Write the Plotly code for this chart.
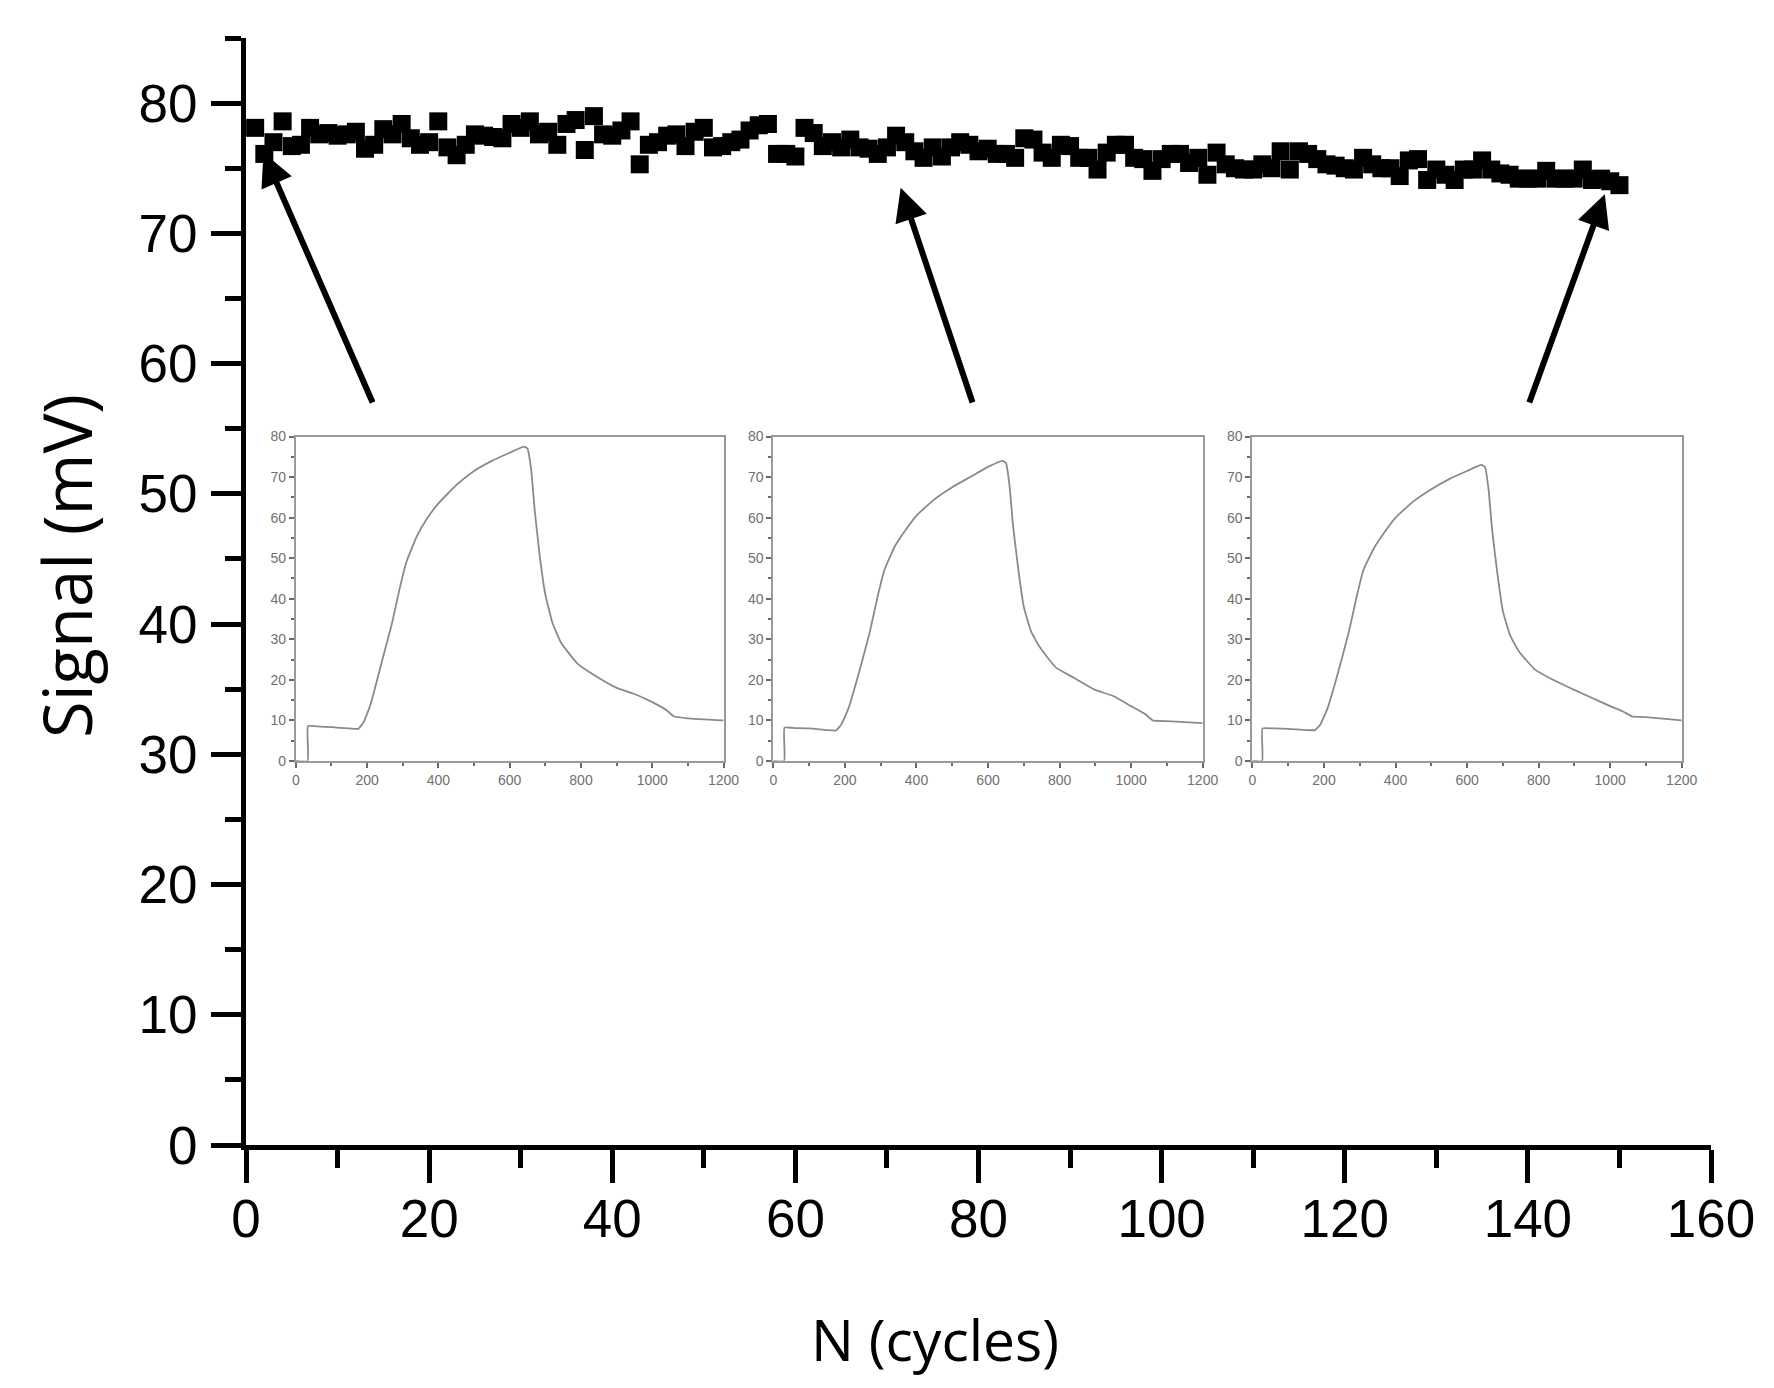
import plotly.graph_objects as go

# ---------------- main series ----------------
cycles = list(range(1, 151))
signal = [
    78.1, 76.1, 77.0, 78.6, 76.7, 76.8, 78.1, 77.6, 77.7, 77.5,
    77.6, 77.8, 76.5, 76.8, 78.0, 77.6, 78.4, 77.3, 76.8, 77.0,
    78.6, 76.6, 76.0, 76.8, 77.6, 77.5, 77.4, 77.3, 78.4, 78.1,
    78.6, 77.6, 77.8, 76.8, 78.4, 78.7, 76.4, 79.0, 77.6, 77.5,
    77.9, 78.6, 75.3, 76.8, 77.0, 77.5, 77.6, 76.7, 77.8, 78.1,
    76.6, 76.7, 77.0, 77.2, 77.9, 78.3, 78.4, 76.1, 76.1, 75.9,
    78.1, 77.7, 76.7, 77.0, 76.6, 77.2, 76.6, 76.5, 76.1, 76.6,
    77.5, 77.0, 76.3, 75.8, 76.6, 75.9, 76.6, 77.0, 76.8, 76.3,
    76.5, 76.1, 76.1, 75.8, 77.3, 77.2, 76.2, 75.8, 76.8, 76.7,
    75.8, 75.8, 74.9, 76.2, 76.8, 76.8, 75.8, 75.7, 74.8, 75.7,
    76.1, 76.1, 75.4, 75.8, 74.5, 76.2, 75.3, 75.0, 74.9, 74.9,
    75.3, 75.0, 76.3, 74.9, 76.3, 76.1, 75.7, 75.3, 75.2, 75.0,
    74.9, 75.8, 75.3, 75.0, 75.0, 74.4, 75.6, 75.7, 74.1, 74.9,
    74.5, 74.1, 74.9, 74.9, 75.6, 74.9, 74.6, 74.5, 74.2, 74.2,
    74.2, 74.8, 74.2, 74.2, 74.2, 74.9, 74.1, 74.2, 74.0, 73.7,
]

# ---------------- inset curves (time, signal) ----------------
inset1_t = [0, 33, 34, 60, 100, 150, 175, 190, 210, 240, 270, 290, 310, 340, 370, 400,
            450, 500, 550, 600, 640, 650, 660, 670, 685, 700, 720, 745, 790, 840,
            900, 950, 1000, 1040, 1060, 1100, 1200]
inset1_y = [0, 0, 8.6, 8.5, 8.3, 8.0, 7.9, 9.5, 14, 24, 34, 42, 49, 55.5, 60, 63.5,
            68, 71.5, 74, 76, 77.5, 77, 72, 62, 50, 41, 34, 29, 24, 21,
            18, 16.5, 14.5, 12.5, 11, 10.5, 10]

inset2_t = [0, 30, 31, 60, 100, 150, 175, 190, 210, 240, 270, 290, 310, 340, 370, 400,
            450, 500, 550, 600, 640, 650, 660, 670, 685, 700, 720, 745, 790, 840,
            900, 950, 1000, 1040, 1060, 1100, 1200]
inset2_y = [0, 0, 8.2, 8.1, 8.0, 7.6, 7.5, 9.0, 13, 22, 32, 40, 47, 53, 57, 60.5,
            64.5, 67.5, 70, 72.5, 74, 73.5, 68, 58, 47, 38, 32, 28, 23, 20.5,
            17.5, 16, 13.5, 11.5, 10, 9.8, 9.3]

inset3_t = [0, 27, 28, 60, 100, 150, 175, 190, 210, 240, 270, 290, 310, 340, 370, 400,
            450, 500, 550, 600, 640, 650, 660, 670, 685, 700, 720, 745, 790, 840,
            900, 950, 1000, 1040, 1060, 1100, 1200]
inset3_y = [0, 0, 8.0, 8.0, 7.9, 7.6, 7.6, 9.0, 13, 22, 32, 40, 47, 52.5, 56.5, 60,
            64, 67, 69.5, 71.5, 73, 72.5, 67, 57, 46, 37, 31, 27, 22.5, 20,
            17.5, 15.5, 13.5, 12, 11, 10.8, 10]

# ---------------- arrows (tip <- tail, data coords) ----------------
arrow_tip_x = [1.9, 71.5, 148.4]
arrow_tip_y = [76.2, 73.5, 73.0]
arrow_tail_x = [13.9, 79.4, 140.1]
arrow_tail_y = [56.9, 56.9, 56.9]

# inset placement (paper coords)
inset_x_domains = [[0.034, 0.326], [0.360, 0.653], [0.687, 0.980]]
inset_y_domain = [0.347, 0.640]

fig = go.Figure()
fig.add_trace(go.Scatter(
    x=cycles, y=signal, mode="markers",
    marker=dict(symbol="square", size=18, color="black", line=dict(width=0)),
    xaxis="x", yaxis="y", showlegend=False, cliponaxis=False,
))

inset_data = [(inset1_t, inset1_y), (inset2_t, inset2_y), (inset3_t, inset3_y)]
for i, (t, y) in enumerate(inset_data):
    n = i + 2
    fig.add_trace(go.Scatter(
        x=t, y=y, mode="lines",
        line=dict(color="#8a8a8a", width=1.8, shape="spline", smoothing=0.4),
        xaxis=f"x{n}", yaxis=f"y{n}", showlegend=False,
    ))

main_font = dict(family="Liberation Sans, Arial", size=53, color="black")

layout = dict(
    width=1774, height=1388,
    margin=dict(l=238, r=71, t=30, b=251),
    paper_bgcolor="white", plot_bgcolor="white",
    font=dict(family="Liberation Sans, Arial", color="black"),
    xaxis=dict(
        range=[0, 160], domain=[0, 1], showgrid=False, zeroline=False,
        showline=True, linecolor="black", linewidth=5,
        ticks="outside", ticklen=33, tickwidth=5, tickcolor="black",
        tick0=0, dtick=20, tickfont=main_font, ticklabelstandoff=-10,
        minor=dict(dtick=10, ticks="outside", ticklen=18, tickwidth=5, tickcolor="black"),
        anchor="y",
    ),
    yaxis=dict(
        range=[0, 85], domain=[0, 1], showgrid=False, zeroline=False,
        showline=True, linecolor="black", linewidth=5,
        ticks="outside", ticklen=30, tickwidth=5, tickcolor="black",
        tick0=0, dtick=10, tickfont=main_font, ticklabelstandoff=3,
        minor=dict(dtick=5, ticks="outside", ticklen=16, tickwidth=5, tickcolor="black"),
        anchor="x",
    ),
)

inset_font = dict(family="Liberation Sans, Arial", size=14, color="#707070")
for i, xd in enumerate(inset_x_domains):
    n = i + 2
    layout[f"xaxis{n}"] = dict(
        domain=xd, range=[0, 1200], anchor=f"y{n}", showgrid=False, zeroline=False,
        showline=True, linecolor="#9a9a9a", linewidth=2, mirror=True,
        ticks="outside", ticklen=5, tickwidth=1.5, tickcolor="#6a6a6a",
        tick0=0, dtick=200, tickfont=inset_font,
        minor=dict(dtick=100, ticks="outside", ticklen=3, tickwidth=1.5, tickcolor="#6a6a6a"),
    )
    layout[f"yaxis{n}"] = dict(
        domain=inset_y_domain, range=[0, 80], anchor=f"x{n}", showgrid=False, zeroline=False,
        showline=True, linecolor="#9a9a9a", linewidth=2, mirror=True,
        ticks="outside", ticklen=5, tickwidth=1.5, tickcolor="#6a6a6a",
        tick0=0, dtick=10, tickfont=inset_font,
        minor=dict(dtick=5, ticks="outside", ticklen=3, tickwidth=1.5, tickcolor="#6a6a6a"),
    )

annotations = []
for tx, ty, ax, ay in zip(arrow_tip_x, arrow_tip_y, arrow_tail_x, arrow_tail_y):
    annotations.append(dict(
        x=tx, y=ty, ax=ax, ay=ay, xref="x", yref="y", axref="x", ayref="y",
        text="", showarrow=True, arrowhead=2, arrowsize=1.1, arrowwidth=6,
        arrowcolor="black", standoff=0, startstandoff=0,
    ))

annotations.append(dict(
    text="Signal (mV)", xref="paper", yref="paper", x=(58 - 238) / 1465, y=0.523,
    showarrow=False, textangle=-90, xanchor="center", yanchor="middle",
    font=dict(family="Open Sans", size=67, color="black"),
))
annotations.append(dict(
    text="N (cycles)", xref="paper", yref="paper", x=0.470, y=-0.175,
    showarrow=False, xanchor="center", yanchor="middle",
    font=dict(family="Open Sans", size=57, color="black"),
))
layout["annotations"] = annotations

fig.update_layout(**layout)
fig.write_html("out.html")
